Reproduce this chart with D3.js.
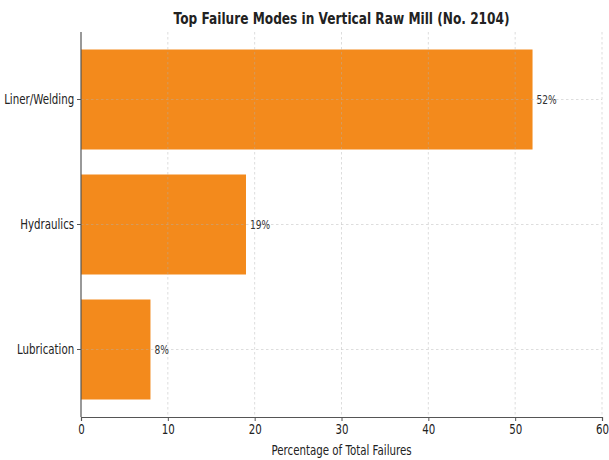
<!DOCTYPE html>
<html>
<head>
<meta charset="utf-8">
<script src="https://cdn.jsdelivr.net/npm/d3@7"></script>
<style>
  body { margin: 0; background: #fff; }
  text { font-family: "DejaVu Sans", sans-serif; }
</style>
</head>
<body>
<div id="wrapper"></div>
<script>
const categories = ["Liner/Welding", "Hydraulics", "Lubrication"];
const percents = [52, 19, 8];
const xTicks = [0, 10, 20, 30, 40, 50, 60];

const W = 609, H = 460;
const sx = 0.76; // text looks horizontally squeezed in the original
const margin = {top: 32, right: 7, bottom: 43, left: 81},
  width = W - margin.left - margin.right,
  height = H - margin.top - margin.bottom;

const svg = d3.select("#wrapper").append("svg")
  .attr("width", W).attr("height", H);

const bounds = svg.append("g")
  .attr("transform", "translate(" + margin.left + "," + margin.top + ")");

const data = categories.map((c, i) => ({cat: c, pct: percents[i]}));

const xScale = d3.scaleLinear().domain([0, 60]).range([0, width]);
const yScale = d3.scaleBand()
  .domain(categories)
  .range([0, height])
  .paddingInner(0.2)
  .paddingOuter(0.14);

// bars
bounds.selectAll(".bar")
  .data(data)
  .enter().append("rect")
  .attr("class", "bar")
  .attr("x", xScale(0))
  .attr("y", d => yScale(d.cat))
  .attr("width", d => xScale(d.pct) - xScale(0))
  .attr("height", yScale.bandwidth())
  .attr("fill", "#f38a1c");

// grid (on top, faint)
const grid = bounds.append("g");
grid.selectAll(".vg").data(xTicks.slice(1)).enter().append("line")
  .attr("x1", d => xScale(d)).attr("x2", d => xScale(d))
  .attr("y1", 0).attr("y2", height)
  .attr("stroke", "#b0b0b0").attr("stroke-opacity", 0.55)
  .attr("stroke-dasharray", "2.5,2.5").attr("stroke-width", 0.8);
grid.selectAll(".hg").data(categories).enter().append("line")
  .attr("x1", 0).attr("x2", width)
  .attr("y1", d => yScale(d) + yScale.bandwidth() / 2)
  .attr("y2", d => yScale(d) + yScale.bandwidth() / 2)
  .attr("stroke", "#b0b0b0").attr("stroke-opacity", 0.55)
  .attr("stroke-dasharray", "2.5,2.5").attr("stroke-width", 0.8);

// value labels
bounds.selectAll(".lbl")
  .data(data)
  .enter().append("text")
  .attr("transform", d => "translate(" + (xScale(d.pct) + 4) + "," +
        (yScale(d.cat) + yScale.bandwidth() / 2) + ") scale(" + sx + ",1)")
  .attr("dy", "0.35em")
  .attr("font-size", 12)
  .attr("fill", "#333")
  .text(d => d.pct + "%");

// axes
const xAxis = d3.axisBottom(xScale).tickValues(xTicks).tickSize(4).tickPadding(3);
const gx = bounds.append("g")
  .attr("transform", "translate(0," + height + ")")
  .call(xAxis);
gx.select(".domain").attr("stroke", "#555").attr("stroke-width", 1.2);
gx.selectAll(".tick line").attr("stroke", "#555");
gx.selectAll(".tick text")
  .attr("font-size", 13.5).attr("fill", "#222")
  .attr("transform", "scale(" + sx + ",1)")
  .style("font-family", '"DejaVu Sans", sans-serif');

const yAxis = d3.axisLeft(yScale).tickSize(4).tickPadding(3);
const gy = bounds.append("g").call(yAxis);
gy.select(".domain").attr("stroke", "#555").attr("stroke-width", 1.2)
  .attr("d", "M0,0V" + height);
gy.selectAll(".tick line").attr("stroke", "#555");
gy.selectAll(".tick text")
  .attr("font-size", 13.5).attr("fill", "#222")
  .attr("x", -9)
  .attr("transform", "scale(" + sx + ",1)")
  .style("font-family", '"DejaVu Sans", sans-serif');

// x label
svg.append("text")
  .attr("transform", "translate(" + (margin.left + width / 2) + ",455) scale(" + sx + ",1)")
  .attr("text-anchor", "middle")
  .attr("font-size", 13.5)
  .attr("fill", "#222")
  .text("Percentage of Total Failures");

// title
svg.append("text")
  .attr("transform", "translate(" + (margin.left + width / 2) + ",24) scale(" + sx + ",1)")
  .attr("text-anchor", "middle")
  .attr("font-size", 16)
  .attr("font-weight", "bold")
  .attr("fill", "#222")
  .text("Top Failure Modes in Vertical Raw Mill (No. 2104)");
</script>
</body>
</html>
